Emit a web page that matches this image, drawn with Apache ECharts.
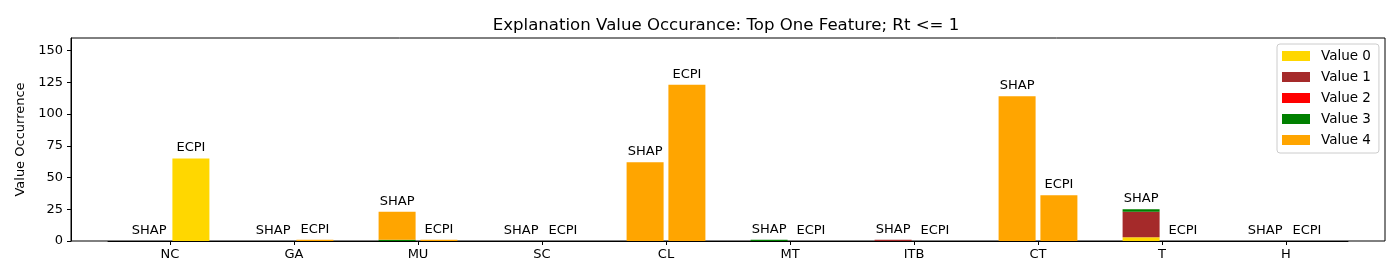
<!DOCTYPE html>
<html>
<head>
<meta charset="utf-8">
<script src="https://cdn.jsdelivr.net/npm/echarts@6/dist/echarts.min.js"></script>
<style>html,body{margin:0;padding:0;background:#fff;}#chart{width:1400px;height:280px;}</style>
</head>
<body>
<div id="chart"></div>
<script>
const categories = ['NC', 'GA', 'MU', 'SC', 'CL', 'MT', 'ITB', 'CT', 'T', 'H'];
const valueNames = ['Value 0', 'Value 1', 'Value 2', 'Value 3', 'Value 4'];
const valueColors = ['#FFD700', '#A52A2A', '#FF0000', '#008000', '#FFA500'];
const yTicks = [0, 25, 50, 75, 100, 125, 150];

// SHAP stacks
const shapV0 = [0, 0, 0, 0, 0, 0, 0, 0, 3, 0];
const shapV1 = [0, 0, 0, 0, 0, 0, 1, 0, 20, 0];
const shapV2 = [0, 0, 0, 0, 0, 0, 0, 0, 0, 0];
const shapV3 = [0, 0, 1, 0, 0, 1, 0, 0, 2, 0];
const shapV4 = [0, 0, 22, 0, 62, 0, 0, 114, 0, 0];
// ECPI stacks
const ecpiV0 = [65, 0, 0, 0, 0, 0, 0, 0, 0, 0];
const ecpiV1 = [0, 0, 0, 0, 0, 0, 0, 0, 0, 0];
const ecpiV2 = [0, 0, 0, 0, 0, 0, 0, 0, 0, 0];
const ecpiV3 = [0, 0, 0, 0, 0, 0, 0, 0, 0, 0];
const ecpiV4 = [0, 1, 1, 0, 123, 0, 0, 36, 0, 0];

const shapData = [shapV0, shapV1, shapV2, shapV3, shapV4];
const ecpiData = [ecpiV0, ecpiV1, ecpiV2, ecpiV3, ecpiV4];

const FONT = 'DejaVu Sans';
function makeSeries(group, arrs) {
  return arrs.map((d, k) => ({
    type: 'bar',
    name: valueNames[k],
    stack: group,
    xAxisIndex: 1,
    yAxisIndex: 1,
    data: d,
    barWidth: 37,
    barGap: '13%',
    itemStyle: { color: valueColors[k] },
    label: k === 4 ? {
      show: true,
      position: 'top',
      distance: 4,
      formatter: group,
      color: '#000',
      fontSize: 13,
      fontFamily: FONT
    } : { show: false },
    emphasis: { disabled: true },
    animation: false
  }));
}

const chart = echarts.init(document.getElementById('chart'), null, { renderer: 'canvas' });
chart.setOption({
  animation: false,
  textStyle: { fontFamily: FONT },
  title: {
    text: 'Explanation Value Occurance: Top One Feature; Rt <= 1',
    left: 721, textAlign: 'center', top: 12,
    textStyle: { fontFamily: FONT, fontSize: 16.6, fontWeight: 'normal', color: '#000' }
  },
  legend: {
    orient: 'vertical',
    left: 1277, top: 44,
    data: valueNames,
    itemWidth: 28, itemHeight: 10, itemGap: 7,
    padding: [5, 8, 6, 5],
    borderColor: '#cccccc', borderWidth: 1, borderRadius: 3,
    backgroundColor: 'rgba(255,255,255,0.8)',
    icon: 'rect',
    textStyle: { fontFamily: FONT, fontSize: 13.5, color: '#000', lineHeight: 14, padding: [0, 0, 0, 6] }
  },
  grid: [
    { left: 71, right: 15, top: 38, bottom: 39, show: true, borderColor: '#000', borderWidth: 1, backgroundColor: 'transparent' },
    { left: 108, right: 52, top: 38, bottom: 39, show: false }
  ],
  xAxis: [
    { gridIndex: 0, type: 'value', show: false, min: 0, max: 1 },
    {
      gridIndex: 1, type: 'category', data: categories,
      axisLine: { show: true, lineStyle: { color: '#000', width: 1 } },
      axisTick: { show: true, alignWithLabel: true, length: 4, lineStyle: { color: '#000' } },
      axisLabel: { color: '#000', fontSize: 13, fontFamily: FONT, margin: 7 },
      splitLine: { show: false }
    }
  ],
  yAxis: [
    { gridIndex: 0, type: 'value', show: false, min: 0, max: 1 },
    {
      gridIndex: 1, type: 'value', min: 0, max: 159.9, interval: 25,
      offset: 37,
      name: 'Value Occurrence', nameLocation: 'middle', nameGap: 43,
      nameTextStyle: { color: '#000', fontSize: 13, fontFamily: FONT },
      axisLine: { show: true, lineStyle: { color: '#000', width: 1 } },
      axisTick: { show: true, length: 4, lineStyle: { color: '#000' } },
      axisLabel: { color: '#000', fontSize: 13, fontFamily: FONT, margin: 8, showMaxLabel: false },
      splitLine: { show: false }
    }
  ],
  series: [...makeSeries('SHAP', shapData), ...makeSeries('ECPI', ecpiData)]
});
</script>
</body>
</html>
